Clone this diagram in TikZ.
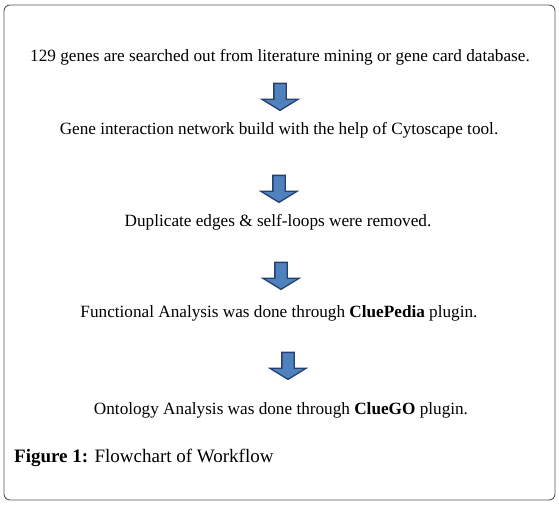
\documentclass[tikz,border=0pt]{standalone}
\usepackage{fontspec}
\setmainfont{Liberation Serif}
\usetikzlibrary{shapes.arrows}
\definecolor{arrowfill}{RGB}{79,129,189}
\definecolor{arrowline}{RGB}{38,64,110}
\definecolor{framegray}{RGB}{85,85,85}
\tikzset{
  steptext/.style={font=\fontsize{17.2}{20}\selectfont,inner sep=0pt,anchor=center},
  downarrow/.style={single arrow,draw=arrowline,fill=arrowfill,line width=1.3pt,shape border rotate=270,
    minimum height=27pt,minimum width=35pt,single arrow head extend=12pt,single arrow tip angle=117,inner sep=5.5pt},
  captiontext/.style={font=\fontsize{19}{22}\selectfont,inner sep=0pt,anchor=west},
  frameline/.style={draw=framegray,line width=0.9pt,rounded corners=6pt}
}
\begin{document}
\begin{tikzpicture}[x=1pt,y=-1pt]
  \useasboundingbox (0,0) rectangle (559,505);
  \draw[frameline] (4,5) rectangle (555,500);
  \node[steptext] (genes) at (280,57) {129 genes are searched out from literature mining or gene card database.};
  \node[downarrow] (arr1) at (280,95) {};
  \node[steptext] (network) at (279,130) {Gene interaction network build with the help of Cytoscape tool.};
  \node[downarrow] (arr2) at (279,187) {};
  \node[steptext] (dupes) at (278,222) {Duplicate edges \& self-loops were removed.};
  \node[downarrow] (arr3) at (281,274) {};
  \node[steptext] (func) at (279,313) {Functional Analysis was done through \textbf{CluePedia} plugin.};
  \node[downarrow] (arr4) at (288,364) {};
  \node[steptext] (onto) at (281,410) {Ontology Analysis was done through \textbf{ClueGO} plugin.};
  \node[captiontext] (caption) at (14,458) {\textbf{Figure 1:} Flowchart of Workflow};
\end{tikzpicture}
\end{document}
